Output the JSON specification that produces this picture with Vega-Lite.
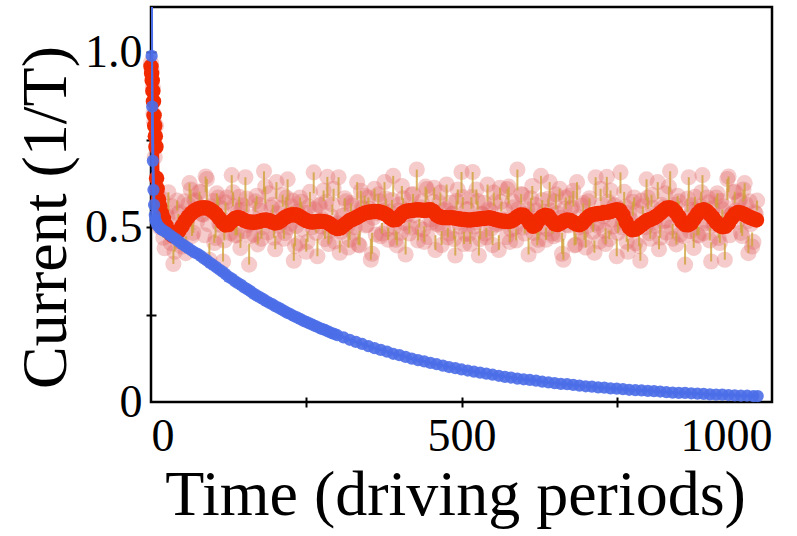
{
"$schema": "https://vega.github.io/schema/vega-lite/v6.json",
"width": 621, "height": 395,
"autosize": "none",
"padding": {"left": 151, "top": 7, "right": 25, "bottom": 134},
"background": "white",
"config": {"view": {"stroke": "black", "strokeWidth": 2.5}, "font": "Liberation Serif",
  "axis": {"labelFont": "Liberation Serif", "titleFont": "Liberation Serif", "labelColor": "black", "titleColor": "black", "tickColor": "black", "domainColor": "black", "grid": false}},
"datasets": {
"noise": [{"t":0,"v":0.97},{"t":1,"v":0.95},{"t":3,"v":0.9},{"t":4,"v":0.825},{"t":5,"v":0.8},{"t":6,"v":0.7},{"t":8,"v":0.79},{"t":12,"v":0.57},{"t":16,"v":0.552},{"t":20,"v":0.47,"w":0.497},{"t":24,"v":0.545},{"t":28,"v":0.6,"w":0.545},{"t":32,"v":0.455},{"t":36,"v":0.395,"w":0.435},{"t":40,"v":0.493},{"t":44,"v":0.538,"w":0.513},{"t":48,"v":0.458},{"t":52,"v":0.509},{"t":56,"v":0.426,"w":0.474},{"t":60,"v":0.565},{"t":64,"v":0.608,"w":0.573},{"t":68,"v":0.484,"w":0.514},{"t":72,"v":0.574},{"t":76,"v":0.548},{"t":80,"v":0.6},{"t":84,"v":0.536},{"t":88,"v":0.645,"w":0.6},{"t":92,"v":0.509},{"t":96,"v":0.56},{"t":100,"v":0.575},{"t":104,"v":0.469,"w":0.504},{"t":108,"v":0.585,"w":0.558},{"t":112,"v":0.506},{"t":116,"v":0.402,"w":0.457},{"t":120,"v":0.571,"w":0.539},{"t":124,"v":0.512},{"t":128,"v":0.483},{"t":132,"v":0.6,"w":0.56},{"t":136,"v":0.476,"w":0.501},{"t":140,"v":0.548},{"t":144,"v":0.441,"w":0.484},{"t":148,"v":0.562},{"t":152,"v":0.643,"w":0.583},{"t":156,"v":0.506},{"t":160,"v":0.475},{"t":164,"v":0.529},{"t":168,"v":0.574,"w":0.544},{"t":172,"v":0.451,"w":0.484},{"t":176,"v":0.548},{"t":180,"v":0.5},{"t":184,"v":0.616,"w":0.568},{"t":188,"v":0.485},{"t":192,"v":0.517},{"t":196,"v":0.564,"w":0.539},
{"t":200,"v":0.437,"w":0.475},{"t":204,"v":0.539},{"t":208,"v":0.513},{"t":212,"v":0.593,"w":0.558},{"t":216,"v":0.483},{"t":220,"v":0.637,"w":0.577},{"t":224,"v":0.51},{"t":228,"v":0.576},{"t":232,"v":0.446,"w":0.491},{"t":236,"v":0.544},{"t":240,"v":0.585,"w":0.558},{"t":244,"v":0.495},{"t":248,"v":0.541},{"t":252,"v":0.458,"w":0.488},{"t":256,"v":0.601,"w":0.558},{"t":260,"v":0.5},{"t":264,"v":0.551},{"t":268,"v":0.417,"w":0.467},{"t":272,"v":0.562},{"t":276,"v":0.522},{"t":280,"v":0.466,"w":0.491},{"t":284,"v":0.644,"w":0.584},{"t":288,"v":0.49},{"t":292,"v":0.565,"w":0.535},{"t":296,"v":0.459},{"t":300,"v":0.511},{"t":304,"v":0.427,"w":0.462},{"t":308,"v":0.532},{"t":312,"v":0.583,"w":0.545},{"t":316,"v":0.503},{"t":320,"v":0.464,"w":0.491},{"t":324,"v":0.562},{"t":328,"v":0.5},{"t":332,"v":0.629,"w":0.579},{"t":336,"v":0.448,"w":0.49},{"t":340,"v":0.557},{"t":344,"v":0.59,"w":0.565},{"t":348,"v":0.507},{"t":352,"v":0.553},{"t":356,"v":0.424,"w":0.484},{"t":360,"v":0.61,"w":0.577},{"t":364,"v":0.54},{"t":368,"v":0.574},{"t":372,"v":0.482,"w":0.512},{"t":376,"v":0.629,"w":0.584},{"t":380,"v":0.495},{"t":384,"v":0.544},{"t":388,"v":0.578,"w":0.55},{"t":392,"v":0.501},{"t":396,"v":0.448,"w":0.485},
{"t":400,"v":0.565},{"t":404,"v":0.618,"w":0.578},{"t":408,"v":0.513},{"t":412,"v":0.551},{"t":416,"v":0.482,"w":0.514},{"t":420,"v":0.593},{"t":424,"v":0.534},{"t":428,"v":0.665,"w":0.605},{"t":432,"v":0.499,"w":0.524},{"t":436,"v":0.574},{"t":440,"v":0.458,"w":0.503},{"t":444,"v":0.609,"w":0.579},{"t":448,"v":0.55},{"t":452,"v":0.514},{"t":456,"v":0.613,"w":0.578},{"t":460,"v":0.51},{"t":464,"v":0.571},{"t":468,"v":0.449,"w":0.489},{"t":472,"v":0.548},{"t":476,"v":0.622,"w":0.574},{"t":480,"v":0.482},{"t":484,"v":0.537},{"t":488,"v":0.466,"w":0.496},{"t":492,"v":0.575,"w":0.55},{"t":496,"v":0.514},{"t":500,"v":0.658,"w":0.598},{"t":504,"v":0.452,"w":0.487},{"t":508,"v":0.551},{"t":512,"v":0.481},{"t":516,"v":0.586,"w":0.553},{"t":520,"v":0.502},{"t":524,"v":0.608,"w":0.565},{"t":528,"v":0.419,"w":0.474},{"t":532,"v":0.539},{"t":536,"v":0.57},{"t":540,"v":0.471,"w":0.498},{"t":544,"v":0.552},{"t":548,"v":0.496},{"t":552,"v":0.599,"w":0.561},{"t":556,"v":0.507},{"t":560,"v":0.435,"w":0.477},{"t":564,"v":0.573,"w":0.545},{"t":568,"v":0.522},{"t":572,"v":0.472},{"t":576,"v":0.616,"w":0.566},{"t":580,"v":0.493},{"t":584,"v":0.557},{"t":588,"v":0.462,"w":0.494},{"t":592,"v":0.552},{"t":596,"v":0.595,"w":0.565},
{"t":600,"v":0.499},{"t":604,"v":0.537},{"t":608,"v":0.422,"w":0.47},{"t":612,"v":0.583,"w":0.545},{"t":616,"v":0.484},{"t":620,"v":0.548},{"t":624,"v":0.464,"w":0.491},{"t":628,"v":0.647,"w":0.587},{"t":632,"v":0.527},{"t":636,"v":0.464,"w":0.499},{"t":640,"v":0.582,"w":0.557},{"t":644,"v":0.547},{"t":648,"v":0.474},{"t":652,"v":0.594,"w":0.551},{"t":656,"v":0.479},{"t":660,"v":0.527},{"t":664,"v":0.407,"w":0.467},{"t":668,"v":0.585,"w":0.552},{"t":672,"v":0.505},{"t":676,"v":0.553},{"t":680,"v":0.604,"w":0.559},{"t":684,"v":0.45,"w":0.48},{"t":688,"v":0.528},{"t":692,"v":0.484},{"t":696,"v":0.569,"w":0.541},{"t":700,"v":0.442,"w":0.482},{"t":704,"v":0.574},{"t":708,"v":0.534},{"t":712,"v":0.487,"w":0.512},{"t":716,"v":0.643,"w":0.583},{"t":720,"v":0.504},{"t":724,"v":0.61,"w":0.575},{"t":728,"v":0.531},{"t":732,"v":0.452,"w":0.497},{"t":736,"v":0.573},{"t":740,"v":0.605,"w":0.575},{"t":744,"v":0.502},{"t":748,"v":0.564},{"t":752,"v":0.484,"w":0.516},{"t":756,"v":0.657,"w":0.597},{"t":760,"v":0.515},{"t":764,"v":0.559},{"t":768,"v":0.43,"w":0.467},{"t":772,"v":0.522},{"t":776,"v":0.573,"w":0.533},{"t":780,"v":0.454},{"t":784,"v":0.504},{"t":788,"v":0.404,"w":0.454},{"t":792,"v":0.56,"w":0.535},{"t":796,"v":0.5},
{"t":800,"v":0.585,"w":0.552},{"t":804,"v":0.467,"w":0.494},{"t":808,"v":0.555},{"t":812,"v":0.504},{"t":816,"v":0.629,"w":0.581},{"t":820,"v":0.47,"w":0.505},{"t":824,"v":0.556},{"t":828,"v":0.597},{"t":832,"v":0.52},{"t":836,"v":0.66,"w":0.6},{"t":840,"v":0.467,"w":0.509},{"t":844,"v":0.564},{"t":848,"v":0.59,"w":0.562},{"t":852,"v":0.479},{"t":856,"v":0.513},{"t":860,"v":0.393,"w":0.453},{"t":864,"v":0.582,"w":0.544},{"t":868,"v":0.489},{"t":872,"v":0.55},{"t":876,"v":0.587,"w":0.557},{"t":880,"v":0.478,"w":0.508},{"t":884,"v":0.56},{"t":888,"v":0.649,"w":0.599},{"t":892,"v":0.519},{"t":896,"v":0.585},{"t":900,"v":0.462,"w":0.499},{"t":904,"v":0.554},{"t":908,"v":0.51},{"t":912,"v":0.597,"w":0.554},{"t":916,"v":0.455,"w":0.48},{"t":920,"v":0.551,"w":0.526},{"t":924,"v":0.407,"w":0.454},{"t":928,"v":0.638,"w":0.578},{"t":932,"v":0.477},{"t":936,"v":0.538},{"t":940,"v":0.602,"w":0.569},{"t":944,"v":0.516},{"t":948,"v":0.577},{"t":952,"v":0.475,"w":0.507},{"t":956,"v":0.626,"w":0.581},{"t":960,"v":0.517},{"t":964,"v":0.574},{"t":968,"v":0.445,"w":0.485},{"t":972,"v":0.543},{"t":976,"v":0.576,"w":0.548},
{"t":10,"v":0.6},{"t":14,"v":0.5},{"t":18,"v":0.58},{"t":22,"v":0.44},{"t":26,"v":0.53},{"t":30,"v":0.51},{"t":34,"v":0.56},{"t":38,"v":0.43,"w":0.47},
{"t":42,"v":0.576,"w":0.548},{"t":46,"v":0.543},{"t":50,"v":0.445,"w":0.485},{"t":54,"v":0.574},{"t":58,"v":0.517},{"t":62,"v":0.626,"w":0.581},{"t":66,"v":0.475,"w":0.507},{"t":70,"v":0.577},{"t":74,"v":0.516},{"t":78,"v":0.602,"w":0.569},{"t":82,"v":0.538},{"t":86,"v":0.477},{"t":90,"v":0.638,"w":0.578},{"t":94,"v":0.407,"w":0.454},{"t":98,"v":0.551,"w":0.526},{"t":102,"v":0.455,"w":0.48},{"t":106,"v":0.597,"w":0.554},{"t":110,"v":0.51},{"t":114,"v":0.554},{"t":118,"v":0.462,"w":0.499},{"t":122,"v":0.585},{"t":126,"v":0.519},{"t":130,"v":0.649,"w":0.599},{"t":134,"v":0.56},{"t":138,"v":0.478,"w":0.508},{"t":142,"v":0.587,"w":0.557},{"t":146,"v":0.55},{"t":150,"v":0.489},{"t":154,"v":0.582,"w":0.544},{"t":158,"v":0.393,"w":0.453},{"t":162,"v":0.513},{"t":166,"v":0.479},{"t":170,"v":0.59,"w":0.562},{"t":174,"v":0.564},{"t":178,"v":0.467,"w":0.509},{"t":182,"v":0.66,"w":0.6},{"t":186,"v":0.52},{"t":190,"v":0.597},{"t":194,"v":0.556},{"t":198,"v":0.47,"w":0.505},
{"t":202,"v":0.629,"w":0.581},{"t":206,"v":0.504},{"t":210,"v":0.555},{"t":214,"v":0.467,"w":0.494},{"t":218,"v":0.585,"w":0.552},{"t":222,"v":0.5},{"t":226,"v":0.56,"w":0.535},{"t":230,"v":0.404,"w":0.454},{"t":234,"v":0.504},{"t":238,"v":0.454},{"t":242,"v":0.573,"w":0.533},{"t":246,"v":0.522},{"t":250,"v":0.43,"w":0.467},{"t":254,"v":0.559},{"t":258,"v":0.515},{"t":262,"v":0.657,"w":0.597},{"t":266,"v":0.484,"w":0.516},{"t":270,"v":0.564},{"t":274,"v":0.502},{"t":278,"v":0.605,"w":0.575},{"t":282,"v":0.573},{"t":286,"v":0.452,"w":0.497},{"t":290,"v":0.531},{"t":294,"v":0.61,"w":0.575},{"t":298,"v":0.504},{"t":302,"v":0.643,"w":0.583},{"t":306,"v":0.487,"w":0.512},{"t":310,"v":0.534},{"t":314,"v":0.574},{"t":318,"v":0.442,"w":0.482},{"t":322,"v":0.569,"w":0.541},{"t":326,"v":0.484},{"t":330,"v":0.528},{"t":334,"v":0.45,"w":0.48},{"t":338,"v":0.604,"w":0.559},{"t":342,"v":0.553},{"t":346,"v":0.505},{"t":350,"v":0.585,"w":0.552},{"t":354,"v":0.407,"w":0.467},{"t":358,"v":0.527},{"t":362,"v":0.479},{"t":366,"v":0.594,"w":0.551},{"t":370,"v":0.474},{"t":374,"v":0.547},{"t":378,"v":0.582,"w":0.557},{"t":382,"v":0.464,"w":0.499},{"t":386,"v":0.527},{"t":390,"v":0.647,"w":0.587},{"t":394,"v":0.464,"w":0.491},{"t":398,"v":0.548},
{"t":402,"v":0.484},{"t":406,"v":0.583,"w":0.545},{"t":410,"v":0.422,"w":0.47},{"t":414,"v":0.537},{"t":418,"v":0.499},{"t":422,"v":0.595,"w":0.565},{"t":426,"v":0.552},{"t":430,"v":0.462,"w":0.494},{"t":434,"v":0.557},{"t":438,"v":0.493},{"t":442,"v":0.616,"w":0.566},{"t":446,"v":0.472},{"t":450,"v":0.522},{"t":454,"v":0.573,"w":0.545},{"t":458,"v":0.435,"w":0.477},{"t":462,"v":0.507},{"t":466,"v":0.599,"w":0.561},{"t":470,"v":0.496},{"t":474,"v":0.552},{"t":478,"v":0.471,"w":0.498},{"t":482,"v":0.57},{"t":486,"v":0.539},{"t":490,"v":0.419,"w":0.474},{"t":494,"v":0.608,"w":0.565},{"t":498,"v":0.502},{"t":502,"v":0.586,"w":0.553},{"t":506,"v":0.481},{"t":510,"v":0.551},{"t":514,"v":0.452,"w":0.487},{"t":518,"v":0.658,"w":0.598},{"t":522,"v":0.514},{"t":526,"v":0.575,"w":0.55},{"t":530,"v":0.466,"w":0.496},{"t":534,"v":0.537},{"t":538,"v":0.482},{"t":542,"v":0.622,"w":0.574},{"t":546,"v":0.548},{"t":550,"v":0.449,"w":0.489},{"t":554,"v":0.571},{"t":558,"v":0.51},{"t":562,"v":0.613,"w":0.578},{"t":566,"v":0.514},{"t":570,"v":0.55},{"t":574,"v":0.609,"w":0.579},{"t":578,"v":0.458,"w":0.503},{"t":582,"v":0.574},{"t":586,"v":0.499,"w":0.524},{"t":590,"v":0.665,"w":0.605},{"t":594,"v":0.534},{"t":598,"v":0.593},
{"t":602,"v":0.482,"w":0.514},{"t":606,"v":0.551},{"t":610,"v":0.513},{"t":614,"v":0.618,"w":0.578},{"t":618,"v":0.565},{"t":622,"v":0.448,"w":0.485},{"t":626,"v":0.501},{"t":630,"v":0.578,"w":0.55},{"t":634,"v":0.544},{"t":638,"v":0.495},{"t":642,"v":0.629,"w":0.584},{"t":646,"v":0.482,"w":0.512},{"t":650,"v":0.574},{"t":654,"v":0.54},{"t":658,"v":0.61,"w":0.577},{"t":662,"v":0.424,"w":0.484},{"t":666,"v":0.553},{"t":670,"v":0.507},{"t":674,"v":0.59,"w":0.565},{"t":678,"v":0.557},{"t":682,"v":0.448,"w":0.49},{"t":686,"v":0.629,"w":0.579},{"t":690,"v":0.5},{"t":694,"v":0.562},{"t":698,"v":0.464,"w":0.491},{"t":702,"v":0.503},{"t":706,"v":0.583,"w":0.545},{"t":710,"v":0.532},{"t":714,"v":0.427,"w":0.462},{"t":718,"v":0.511},{"t":722,"v":0.459},{"t":726,"v":0.565,"w":0.535},{"t":730,"v":0.49},{"t":734,"v":0.644,"w":0.584},{"t":738,"v":0.466,"w":0.491},{"t":742,"v":0.522},{"t":746,"v":0.562},{"t":750,"v":0.417,"w":0.467},{"t":754,"v":0.551},{"t":758,"v":0.5},{"t":762,"v":0.601,"w":0.558},{"t":766,"v":0.458,"w":0.488},{"t":770,"v":0.541},{"t":774,"v":0.495},{"t":778,"v":0.585,"w":0.558},{"t":782,"v":0.544},{"t":786,"v":0.446,"w":0.491},{"t":790,"v":0.576},{"t":794,"v":0.51},{"t":798,"v":0.637,"w":0.577},
{"t":802,"v":0.483},{"t":806,"v":0.593,"w":0.558},{"t":810,"v":0.513},{"t":814,"v":0.539},{"t":818,"v":0.437,"w":0.475},{"t":822,"v":0.564,"w":0.539},{"t":826,"v":0.517},{"t":830,"v":0.485},{"t":834,"v":0.616,"w":0.568},{"t":838,"v":0.5},{"t":842,"v":0.548},{"t":846,"v":0.451,"w":0.484},{"t":850,"v":0.574,"w":0.544},{"t":854,"v":0.529},{"t":858,"v":0.475},{"t":862,"v":0.506},{"t":866,"v":0.643,"w":0.583},{"t":870,"v":0.562},{"t":874,"v":0.441,"w":0.484},{"t":878,"v":0.548},{"t":882,"v":0.476,"w":0.501},{"t":886,"v":0.6,"w":0.56},{"t":890,"v":0.483},{"t":894,"v":0.512},{"t":898,"v":0.571,"w":0.539},{"t":902,"v":0.402,"w":0.457},{"t":906,"v":0.506},{"t":910,"v":0.585,"w":0.558},{"t":914,"v":0.469,"w":0.504},{"t":918,"v":0.575},{"t":922,"v":0.56},{"t":926,"v":0.509},{"t":930,"v":0.645,"w":0.6},{"t":934,"v":0.536},{"t":938,"v":0.6},{"t":942,"v":0.548},{"t":946,"v":0.574},{"t":950,"v":0.484,"w":0.514},{"t":954,"v":0.608,"w":0.573},{"t":958,"v":0.565},{"t":962,"v":0.426,"w":0.474},{"t":966,"v":0.509},{"t":970,"v":0.458},{"t":974,"v":0.538,"w":0.513}],
"mean": [{"t":0,"v":0.96},{"t":1,"v":0.94},{"t":2,"v":0.92},{"t":3,"v":0.89},{"t":4,"v":0.86},{"t":5,"v":0.82},{"t":6,"v":0.79},{"t":7,"v":0.76},{"t":8,"v":0.73},{"t":9,"v":0.64},{"t":10,"v":0.61},{"t":12,"v":0.58},{"t":14,"v":0.56},{"t":17,"v":0.54},{"t":20,"v":0.525},{"t":24,"v":0.505},{"t":28,"v":0.49},{"t":32,"v":0.48},{"t":36,"v":0.475},{"t":40,"v":0.478},{"t":45,"v":0.49},{"t":50,"v":0.503},{"t":55,"v":0.518},{"t":60,"v":0.53},{"t":65,"v":0.54},{"t":70,"v":0.547},{"t":75,"v":0.552},{"t":80,"v":0.555},{"t":85,"v":0.556},{"t":90,"v":0.555},{"t":95,"v":0.551},{"t":100,"v":0.545},{"t":105,"v":0.537},{"t":110,"v":0.526},{"t":115,"v":0.514},{"t":120,"v":0.506},{"t":125,"v":0.508},{"t":130,"v":0.517},{"t":135,"v":0.525},{"t":140,"v":0.528},{"t":145,"v":0.525},{"t":150,"v":0.52},{"t":155,"v":0.516},{"t":160,"v":0.515},{"t":165,"v":0.514},{"t":170,"v":0.515},{"t":175,"v":0.517},{"t":180,"v":0.52},{"t":185,"v":0.521},{"t":190,"v":0.519},{"t":195,"v":0.515},{"t":200,"v":0.512},{"t":205,"v":0.514},{"t":210,"v":0.52},{"t":215,"v":0.527},{"t":220,"v":0.532},{"t":225,"v":0.535},{"t":230,"v":0.536},{"t":235,"v":0.535},{"t":240,"v":0.53},{"t":245,"v":0.524},{"t":250,"v":0.519},{"t":255,"v":0.516},{"t":260,"v":0.515},{"t":265,"v":0.516},{"t":270,"v":0.517},{"t":275,"v":0.517},{"t":280,"v":0.516},{"t":285,"v":0.513},{"t":290,"v":0.507},{"t":295,"v":0.5},{"t":300,"v":0.496},{"t":305,"v":0.498},{"t":310,"v":0.505},{"t":315,"v":0.512},{"t":320,"v":0.519},{"t":325,"v":0.523},{"t":330,"v":0.527},{"t":335,"v":0.532},{"t":340,"v":0.537},{"t":345,"v":0.541},{"t":350,"v":0.543},{"t":355,"v":0.544},{"t":360,"v":0.545},{"t":365,"v":0.545},{"t":370,"v":0.543},{"t":375,"v":0.54},{"t":380,"v":0.535},{"t":385,"v":0.527},{"t":390,"v":0.521},{"t":395,"v":0.522},{"t":400,"v":0.53},{"t":405,"v":0.54},{"t":410,"v":0.545},{"t":415,"v":0.547},{"t":420,"v":0.548},{"t":425,"v":0.549},{"t":430,"v":0.55},{"t":435,"v":0.549},{"t":440,"v":0.548},{"t":445,"v":0.549},{"t":450,"v":0.55},{"t":455,"v":0.545},{"t":460,"v":0.535},{"t":465,"v":0.53},{"t":470,"v":0.528},{"t":475,"v":0.527},{"t":480,"v":0.527},{"t":485,"v":0.527},{"t":490,"v":0.526},{"t":495,"v":0.524},{"t":500,"v":0.523},{"t":505,"v":0.522},{"t":510,"v":0.521},{"t":515,"v":0.521},{"t":520,"v":0.522},{"t":525,"v":0.523},{"t":530,"v":0.524},{"t":535,"v":0.525},{"t":540,"v":0.526},{"t":545,"v":0.527},{"t":550,"v":0.525},{"t":555,"v":0.522},{"t":560,"v":0.52},{"t":565,"v":0.518},{"t":570,"v":0.517},{"t":575,"v":0.516},{"t":580,"v":0.518},{"t":585,"v":0.523},{"t":590,"v":0.53},{"t":595,"v":0.535},{"t":600,"v":0.534},{"t":605,"v":0.525},{"t":610,"v":0.512},{"t":615,"v":0.503},{"t":620,"v":0.508},{"t":625,"v":0.522},{"t":630,"v":0.53},{"t":635,"v":0.534},{"t":640,"v":0.532},{"t":645,"v":0.52},{"t":650,"v":0.51},{"t":655,"v":0.508},{"t":660,"v":0.512},{"t":665,"v":0.518},{"t":670,"v":0.521},{"t":675,"v":0.519},{"t":680,"v":0.514},{"t":685,"v":0.509},{"t":690,"v":0.507},{"t":695,"v":0.512},{"t":700,"v":0.522},{"t":705,"v":0.531},{"t":710,"v":0.536},{"t":715,"v":0.538},{"t":720,"v":0.539},{"t":725,"v":0.54},{"t":730,"v":0.542},{"t":735,"v":0.543},{"t":740,"v":0.545},{"t":745,"v":0.548},{"t":750,"v":0.55},{"t":755,"v":0.548},{"t":760,"v":0.535},{"t":765,"v":0.515},{"t":770,"v":0.5},{"t":775,"v":0.493},{"t":780,"v":0.494},{"t":785,"v":0.5},{"t":790,"v":0.507},{"t":795,"v":0.514},{"t":800,"v":0.52},{"t":805,"v":0.523},{"t":810,"v":0.527},{"t":815,"v":0.533},{"t":820,"v":0.54},{"t":825,"v":0.548},{"t":830,"v":0.554},{"t":835,"v":0.556},{"t":840,"v":0.552},{"t":845,"v":0.543},{"t":850,"v":0.53},{"t":855,"v":0.516},{"t":860,"v":0.508},{"t":865,"v":0.507},{"t":870,"v":0.512},{"t":875,"v":0.525},{"t":880,"v":0.538},{"t":885,"v":0.547},{"t":890,"v":0.55},{"t":895,"v":0.546},{"t":900,"v":0.537},{"t":905,"v":0.527},{"t":910,"v":0.515},{"t":915,"v":0.506},{"t":920,"v":0.501},{"t":925,"v":0.503},{"t":930,"v":0.512},{"t":935,"v":0.526},{"t":940,"v":0.537},{"t":945,"v":0.542},{"t":950,"v":0.541},{"t":955,"v":0.537},{"t":960,"v":0.532},{"t":965,"v":0.528},{"t":970,"v":0.524},{"t":975,"v":0.521}],
"decay": [{"t":0,"v":1.5},{"t":1,"v":0.99},{"t":2,"v":0.845},{"t":3,"v":0.69},{"t":4,"v":0.607},{"t":5,"v":0.564},{"t":6,"v":0.535},{"t":7,"v":0.522},{"t":8,"v":0.515},{"t":10,"v":0.508},{"t":12,"v":0.502},{"t":14,"v":0.498},{"t":17,"v":0.494},{"t":20,"v":0.49},{"t":25,"v":0.485},{"t":30,"v":0.478},{"t":35,"v":0.472},{"t":40,"v":0.466},{"t":45,"v":0.459},{"t":50,"v":0.452},{"t":55,"v":0.446},{"t":60,"v":0.44},{"t":65,"v":0.434},{"t":70,"v":0.428},{"t":75,"v":0.424},{"t":80,"v":0.418},{"t":85,"v":0.411},{"t":90,"v":0.405},{"t":95,"v":0.398},{"t":100,"v":0.392},{"t":105,"v":0.386},{"t":110,"v":0.379},{"t":115,"v":0.373},{"t":120,"v":0.366},{"t":125,"v":0.358},{"t":130,"v":0.353},{"t":135,"v":0.346},{"t":140,"v":0.34},{"t":145,"v":0.335},{"t":150,"v":0.328},{"t":155,"v":0.323},{"t":160,"v":0.317},{"t":165,"v":0.31},{"t":170,"v":0.305},{"t":175,"v":0.3},{"t":180,"v":0.295},{"t":185,"v":0.289},{"t":190,"v":0.284},{"t":195,"v":0.28},{"t":200,"v":0.274},{"t":205,"v":0.27},{"t":210,"v":0.265},{"t":215,"v":0.26},{"t":220,"v":0.255},{"t":225,"v":0.251},{"t":230,"v":0.246},{"t":235,"v":0.242},{"t":240,"v":0.238},{"t":245,"v":0.233},{"t":250,"v":0.229},{"t":255,"v":0.225},{"t":260,"v":0.221},{"t":265,"v":0.217},{"t":270,"v":0.213},{"t":275,"v":0.209},{"t":280,"v":0.206},{"t":285,"v":0.202},{"t":290,"v":0.198},{"t":295,"v":0.195},{"t":300,"v":0.191},{"t":310,"v":0.185},{"t":320,"v":0.178},{"t":330,"v":0.172},{"t":340,"v":0.166},{"t":350,"v":0.16},{"t":360,"v":0.154},{"t":370,"v":0.149},{"t":380,"v":0.144},{"t":390,"v":0.138},{"t":400,"v":0.134},{"t":410,"v":0.129},{"t":420,"v":0.124},{"t":430,"v":0.12},{"t":440,"v":0.116},{"t":450,"v":0.112},{"t":460,"v":0.108},{"t":470,"v":0.104},{"t":480,"v":0.1},{"t":490,"v":0.097},{"t":500,"v":0.093},{"t":510,"v":0.09},{"t":520,"v":0.087},{"t":530,"v":0.084},{"t":540,"v":0.081},{"t":550,"v":0.078},{"t":560,"v":0.075},{"t":570,"v":0.072},{"t":580,"v":0.07},{"t":590,"v":0.067},{"t":600,"v":0.065},{"t":610,"v":0.063},{"t":620,"v":0.061},{"t":630,"v":0.058},{"t":640,"v":0.056},{"t":650,"v":0.054},{"t":660,"v":0.052},{"t":670,"v":0.051},{"t":680,"v":0.049},{"t":690,"v":0.047},{"t":700,"v":0.045},{"t":710,"v":0.044},{"t":720,"v":0.042},{"t":730,"v":0.041},{"t":740,"v":0.039},{"t":750,"v":0.038},{"t":760,"v":0.037},{"t":770,"v":0.035},{"t":780,"v":0.034},{"t":790,"v":0.033},{"t":800,"v":0.032},{"t":810,"v":0.031},{"t":820,"v":0.03},{"t":830,"v":0.028},{"t":840,"v":0.027},{"t":850,"v":0.026},{"t":860,"v":0.026},{"t":870,"v":0.025},{"t":880,"v":0.024},{"t":890,"v":0.023},{"t":900,"v":0.022},{"t":910,"v":0.021},{"t":920,"v":0.021},{"t":930,"v":0.02},{"t":940,"v":0.019},{"t":950,"v":0.018},{"t":960,"v":0.018},{"t":970,"v":0.017},{"t":977,"v":0.017}]
},
"resolve": {"axis": {"x": "independent", "y": "independent"}},
"layer": [
 {"data": {"name": "noise"},
  "mark": {"type": "circle", "size": 260, "color": "#e26868", "opacity": 0.34},
  "encoding": {
   "x": {"field": "t", "type": "quantitative", "scale": {"domain": [0, 1000]},
     "axis": {"orient": "bottom", "values": [0, 500, 1000], "format": "d", "ticks": false, "domain": false, "labelFlush": true, "labelFontSize": 46, "labelPadding": 12, "title": "Time (driving periods)", "titleFontSize": 64, "titleFontWeight": "normal", "titlePadding": 4, "titleX": 304}},
   "y": {"field": "v", "type": "quantitative", "scale": {"domain": [0, 1.13]},
     "axis": {"orient": "left", "values": [0, 0.5, 1], "labelExpr": "datum.value == 0 ? '0' : format(datum.value, '.1f')", "ticks": false, "domain": false, "labelFontSize": 46, "labelPadding": 9, "title": "Current (1/T)", "titleFontSize": 64, "titleFontWeight": "normal", "titlePadding": 6, "titleY": 210}}
  }},
 {"data": {"name": "noise"},
  "transform": [{"filter": "isValid(datum.w)"}],
  "mark": {"type": "rule", "color": "#cfa13a", "strokeWidth": 2, "opacity": 0.8},
  "encoding": {
   "x": {"field": "t", "type": "quantitative", "scale": {"domain": [0, 1000]},
     "axis": {"orient": "bottom", "values": [250, 500, 750], "labels": false, "domain": false, "ticks": true, "tickSize": 5, "tickWidth": 2, "title": null}},
   "y": {"field": "v", "type": "quantitative", "scale": {"domain": [0, 1.13]},
     "axis": {"orient": "left", "values": [0.25, 0.5, 0.75, 1], "labels": false, "domain": false, "ticks": true, "tickSize": 5, "tickWidth": 2, "title": null}},
   "y2": {"field": "w"}
  }},
 {"data": {"name": "mean"},
  "mark": {"type": "line", "color": "#f22a00", "strokeWidth": 6, "point": {"filled": true, "size": 240, "color": "#f22a00", "opacity": 1}},
  "encoding": {
   "x": {"field": "t", "type": "quantitative", "scale": {"domain": [0, 1000]},
     "axis": {"orient": "bottom", "offset": -5, "values": [250, 500, 750], "labels": false, "domain": false, "ticks": true, "tickSize": 5, "tickWidth": 2, "title": null}},
   "y": {"field": "v", "type": "quantitative", "scale": {"domain": [0, 1.13]},
     "axis": {"orient": "left", "offset": -5, "values": [0.25, 0.5, 0.75, 1], "labels": false, "domain": false, "ticks": true, "tickSize": 5, "tickWidth": 2, "title": null}}
  }},
 {"data": {"name": "decay"},
  "mark": {"type": "line", "color": "#4b6ee8", "strokeWidth": 3, "clip": true},
  "encoding": {
   "x": {"field": "t", "type": "quantitative", "scale": {"domain": [0, 1000]}, "axis": null},
   "y": {"field": "v", "type": "quantitative", "scale": {"domain": [0, 1.13]}, "axis": null}
  }},
 {"data": {"name": "decay"},
  "transform": [{"filter": "datum.v < 1.13"}],
  "mark": {"type": "circle", "size": 150, "color": "#4b6ee8", "opacity": 0.9},
  "encoding": {
   "x": {"field": "t", "type": "quantitative", "scale": {"domain": [0, 1000]}, "axis": null},
   "y": {"field": "v", "type": "quantitative", "scale": {"domain": [0, 1.13]}, "axis": null}
  }}
]
}
